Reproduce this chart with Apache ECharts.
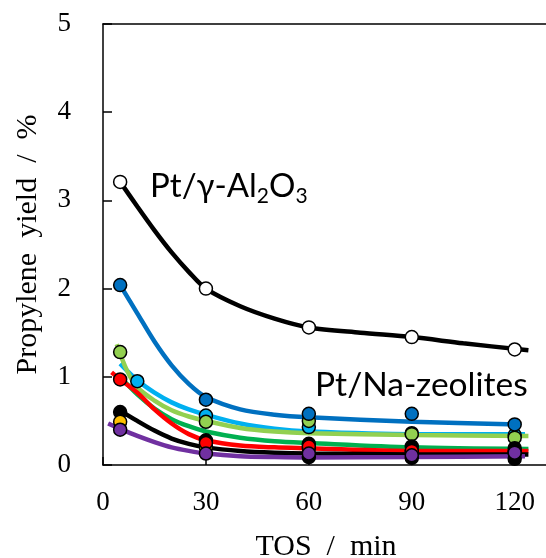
<!DOCTYPE html>
<html>
<head>
<meta charset="utf-8">
<script src="https://cdn.jsdelivr.net/npm/echarts@6/dist/echarts.min.js"></script>
<style>
  html, body { margin: 0; padding: 0; background: #fff; }
  #chart { width: 546px; height: 558px; }
</style>
</head>
<body>
<div id="chart"></div>
<script>
// axis ticks
const xTicks = [0, 30, 60, 90, 120];
const yTicks = [0, 1, 2, 3, 4, 5];

// measured points (TOS min, yield %)
const alumina = [[5, 3.21], [30, 2.0], [60, 1.56], [90, 1.45], [120, 1.31]];
const lightBlue = [[10, 0.95], [30, 0.56], [60, 0.43], [90, 0.36], [120, 0.34]];
const lightGreen = [[5, 1.28], [30, 0.49], [60, 0.5], [90, 0.35], [120, 0.31]];
const darkBlue = [[5, 2.04], [30, 0.74], [60, 0.58], [90, 0.58], [120, 0.46]];
const blackLow = [[60, 0.09], [90, 0.08], [120, 0.07]];
const black = [[5, 0.6], [30, 0.28], [60, 0.24], [90, 0.21], [120, 0.19]];
const orange = [[5, 0.49], [30, 0.2], [60, 0.19], [90, 0.16], [120, 0.14]];
const red = [[5, 0.97], [30, 0.25], [60, 0.21], [90, 0.16], [120, 0.15]];
const purple = [[5, 0.4], [30, 0.13], [60, 0.13], [90, 0.11], [120, 0.14]];

// trend curves
const aluminaFit = [[5, 3.21], [10, 2.93], [15, 2.66], [20, 2.41], [25, 2.19], [30, 2.0], [40, 1.8], [50, 1.66],
  [60, 1.56], [75, 1.5], [90, 1.45], [105, 1.38], [124, 1.3]];
const darkBlueFit = [[5, 2.04], [10, 1.72], [15, 1.4], [20, 1.13], [25, 0.92], [30, 0.77], [40, 0.63], [50, 0.57],
  [60, 0.54], [90, 0.49], [121, 0.46]];
const lightBlueFit = [[5, 1.15], [10, 0.96], [15, 0.82], [20, 0.71], [25, 0.63], [30, 0.57], [40, 0.47], [50, 0.41],
  [60, 0.38], [90, 0.35], [123, 0.35]];
const lightGreenFit = [[4, 1.37], [7, 1.07], [10, 0.88], [15, 0.73], [20, 0.62], [25, 0.55], [30, 0.5], [40, 0.42],
  [50, 0.38], [60, 0.36], [90, 0.34], [124, 0.33]];
const greenFit = [[5, 1.0], [10, 0.8], [15, 0.64], [20, 0.52], [25, 0.44], [30, 0.38], [40, 0.31], [50, 0.27],
  [60, 0.25], [90, 0.2], [124, 0.18]];
const redFit = [[2.5, 1.05], [5, 0.97], [10, 0.82], [15, 0.63], [20, 0.47], [25, 0.35], [30, 0.28], [40, 0.22],
  [50, 0.2], [60, 0.19], [90, 0.16], [124, 0.16]];
const blackFit = [[4, 0.64], [10, 0.5], [15, 0.39], [20, 0.3], [25, 0.24], [30, 0.2], [40, 0.16], [50, 0.14],
  [60, 0.13], [90, 0.12], [124, 0.12]];
const purpleFit = [[1.5, 0.47], [5, 0.41], [10, 0.33], [15, 0.26], [20, 0.2], [25, 0.16], [30, 0.13], [40, 0.1],
  [50, 0.09], [60, 0.085], [90, 0.09], [123, 0.1]];

const serif = "'Liberation Serif', 'Times New Roman', serif";
const sans = "Lato, 'Noto Sans', sans-serif";

const fits = [
  [lightBlueFit, '#00B0F0'],
  [lightGreenFit, '#92D050'],
  [greenFit, '#00B050'],
  [redFit, '#FF0000'],
  [blackFit, '#000000'],
  [purpleFit, '#7030A0'],
  [darkBlueFit, '#0070C0'],
  [aluminaFit, '#000000']
];
const points = [
  [lightBlue, '#00B0F0'],
  [lightGreen, '#92D050'],
  [darkBlue, '#0070C0'],
  [blackLow, '#000000'],
  [black, '#000000'],
  [orange, '#FFC000'],
  [red, '#FF0000'],
  [purple, '#7030A0'],
  [alumina, '#FFFFFF']
];

const series = [];
fits.forEach(([data, color]) => {
  series.push({
    type: 'line',
    data: data,
    smooth: 0.3,
    showSymbol: false,
    silent: true,
    z: 2,
    lineStyle: { color: color, width: 4.5 }
  });
});
points.forEach(([data, color]) => {
  series.push({
    type: 'scatter',
    data: data,
    symbol: 'circle',
    symbolSize: 13,
    z: 3,
    itemStyle: { color: color, borderColor: '#000', borderWidth: 1.5, opacity: 1 }
  });
});

const chart = echarts.init(document.getElementById('chart'), null, { renderer: 'canvas' });
chart.setOption({
  backgroundColor: '#ffffff',
  animation: false,
  grid: { left: 103, right: -3, top: 24, bottom: 93, outerBoundsMode: 'none' },
  xAxis: [{
    type: 'value',
    min: 0,
    max: 130,
    interval: 30,
    name: 'TOS  /  min',
    nameLocation: 'middle',
    nameGap: 67,
    nameTextStyle: { fontFamily: serif, fontSize: 30, color: '#000' },
    axisLine: { show: true, lineStyle: { color: '#000', width: 1.5 } },
    axisTick: { show: true, inside: true, length: 8, lineStyle: { color: '#000', width: 1.5 } },
    axisLabel: {
      margin: 24,
      fontFamily: serif,
      fontSize: 27,
      color: '#000',
      formatter: v => (xTicks.includes(v) ? String(v) : '')
    },
    splitLine: { show: false }
  }, {
    type: 'value',
    position: 'top',
    min: 0,
    max: 130,
    axisLine: { show: true, lineStyle: { color: '#000', width: 1.5 } },
    axisTick: { show: false },
    axisLabel: { show: false },
    splitLine: { show: false }
  }],
  yAxis: {
    type: 'value',
    min: yTicks[0],
    max: yTicks[yTicks.length - 1],
    interval: 1,
    name: 'Propylene  yield  /  %',
    nameLocation: 'middle',
    nameGap: 60,
    nameTextStyle: { fontFamily: serif, fontSize: 30, color: '#000' },
    axisLine: { show: true, lineStyle: { color: '#000', width: 1.5 } },
    axisTick: { show: true, inside: true, length: 9, lineStyle: { color: '#000', width: 1.5 } },
    axisLabel: { margin: 32, fontFamily: serif, fontSize: 27, color: '#000' },
    splitLine: { show: false }
  },
  graphic: [{
    type: 'text',
    left: 150,
    top: 166,
    z: 10,
    style: {
      text: '{m|Pt/γ-Al}{s|2}{m|O}{s|3}',
      rich: {
        m: { fontFamily: sans, fontSize: 33, lineHeight: 33, fill: '#000' },
        s: { fontFamily: sans, fontSize: 21, lineHeight: 21, padding: [20, 0, 0, 0], fill: '#000' }
      }
    }
  }, {
    type: 'text',
    left: 315,
    top: 368,
    z: 10,
    style: { text: 'Pt/Na-zeolites', fontFamily: sans, fontSize: 33.5, fill: '#000' }
  }],
  series: series
});
</script>
</body>
</html>
